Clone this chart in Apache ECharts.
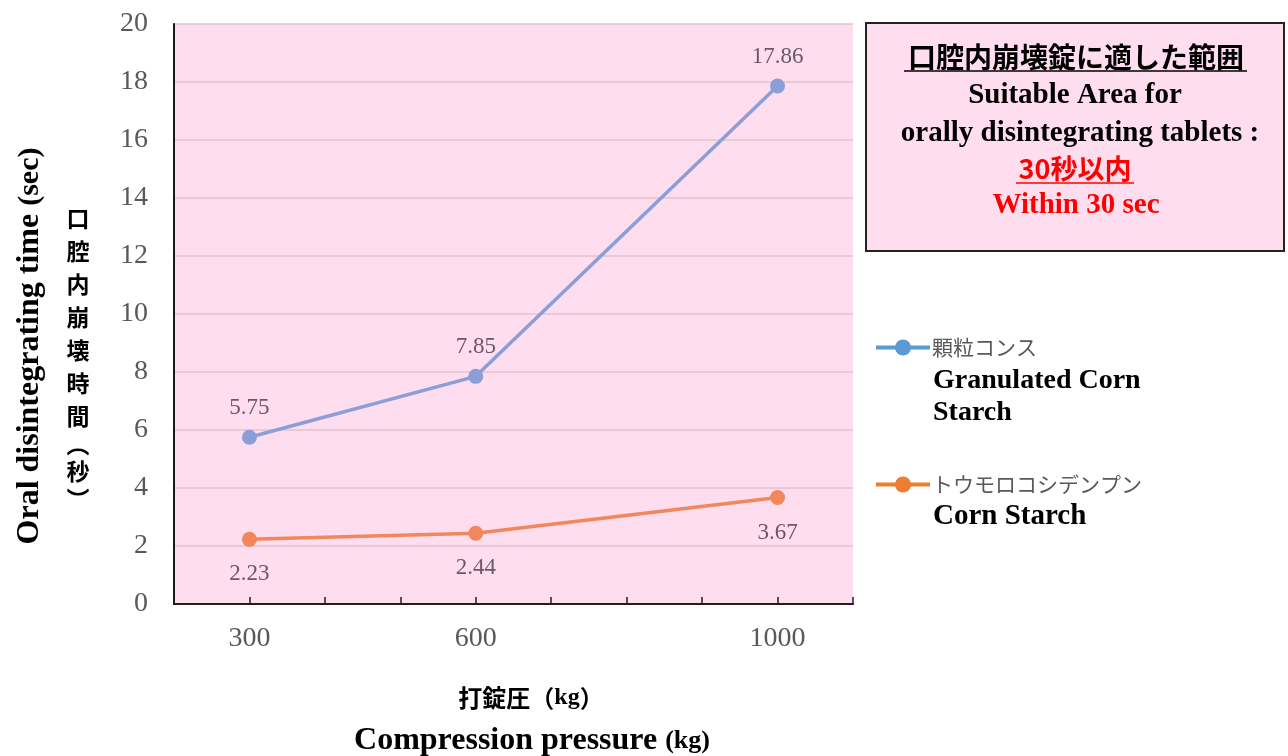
<!DOCTYPE html>
<html>
<head>
<meta charset="utf-8">
<script src="https://cdn.jsdelivr.net/npm/echarts@6/dist/echarts.min.js"></script>
<style>
  html, body { margin: 0; padding: 0; background: #ffffff; }
  #chart { width: 1288px; height: 756px; }
</style>
</head>
<body>
<div id="chart"></div>
<script>
// Compression pressure (kg) and oral disintegrating time (sec)
const pressures = [300, 600, 1000];
const granulatedCornStarch = [5.75, 7.85, 17.86];
const cornStarch = [2.23, 2.44, 3.67];
const pressureLabels = [300, 600, 1000];

const seriesNames = ['顆粒コンス', 'トウモロコシデンプン'];

const SERIF = '"Liberation Serif", "Times New Roman", serif';
const GOTHIC = '"Noto Sans CJK JP", sans-serif';

function pairs(xs, ys) {
  return xs.map((x, i) => [x, ys[i]]);
}

const chart = echarts.init(document.getElementById('chart'));

const option = {
  animation: false,
  backgroundColor: '#ffffff',
  grid: {
    left: 174, right: 435, top: 24, bottom: 152,
    show: true, backgroundColor: '#FEDEEE', borderWidth: 0
  },
  xAxis: {
    type: 'value',
    min: 200, max: 1100, interval: 100,
    axisLine: { show: true, lineStyle: { color: '#2a1a22', width: 2 } },
    axisTick: { show: true, inside: true, length: 7, lineStyle: { color: '#2a1a22', width: 1.5 } },
    splitLine: { show: false },
    axisLabel: {
      margin: 21,
      fontFamily: SERIF, fontSize: 28, color: '#595959',
      formatter: v => (pressureLabels.indexOf(v) >= 0 ? String(v) : '')
    }
  },
  yAxis: {
    type: 'value',
    min: 0, max: 20, interval: 2,
    axisLine: { show: true, lineStyle: { color: '#1a1a1a', width: 2 } },
    axisTick: { show: false },
    splitLine: { show: true, lineStyle: { color: '#DEC3CF', width: 1.5 } },
    axisLabel: { margin: 26, fontFamily: SERIF, fontSize: 28, color: '#595959' }
  },
  legend: {
    orient: 'vertical',
    left: 874, top: 337,
    itemWidth: 54, itemHeight: 20, itemGap: 116,
    padding: 0,
    textStyle: { fontFamily: GOTHIC, fontSize: 21, color: '#595959', padding: [0, 0, 0, -3] },
    data: [
      { name: seriesNames[0], itemStyle: { color: '#5B9BD5' }, lineStyle: { color: '#5B9BD5', width: 4 } },
      { name: seriesNames[1], itemStyle: { color: '#ED7D31' }, lineStyle: { color: '#ED7D31', width: 4 } }
    ]
  },
  series: [
    {
      name: seriesNames[0],
      type: 'line',
      data: pairs(pressures, granulatedCornStarch),
      symbol: 'circle', symbolSize: 15,
      lineStyle: { color: '#8C9ED8', width: 3.5 },
      itemStyle: { color: '#8C9ED8' },
      label: {
        show: true, position: 'top', distance: 10,
        fontFamily: SERIF, fontSize: 23, color: '#6E5765',
        formatter: p => p.value[1].toFixed(2)
      }
    },
    {
      name: seriesNames[1],
      type: 'line',
      data: pairs(pressures, cornStarch),
      symbol: 'circle', symbolSize: 15,
      lineStyle: { color: '#F2875C', width: 3.5 },
      itemStyle: { color: '#F2875C' },
      label: {
        show: true, position: 'bottom', distance: 16,
        fontFamily: SERIF, fontSize: 23, color: '#6E5765',
        formatter: p => p.value[1].toFixed(2)
      }
    }
  ],
  graphic: [
    // Y-axis title (English, rotated)
    {
      type: 'text', x: 30, y: 346, rotation: Math.PI / 2,
      style: {
        text: '{b|Oral disintegrating time }{s|(sec)}',
        align: 'center', verticalAlign: 'middle',
        rich: {
          b: { fontFamily: SERIF, fontSize: 32, fontWeight: 'bold', fill: '#000' },
          s: { fontFamily: SERIF, fontSize: 30, fontWeight: 'bold', fill: '#000' }
        }
      }
    },
    // Y-axis title (Japanese, stacked vertically)
    {
      type: 'text', x: 78, y: 202,
      style: {
        text: ['口', '腔', '内', '崩', '壊', '時', '間'].map(c => '{c|' + c + '}').join('\n') +
              '\n{p|︵}\n{c|秒}\n{p|︶}',
        align: 'center', verticalAlign: 'top',
        rich: {
          c: { fontFamily: GOTHIC, fontSize: 23, fontWeight: 'bold', fill: '#000', lineHeight: 33, align: 'center' },
          p: { fontFamily: GOTHIC, fontSize: 23, fontWeight: 'bold', fill: '#000', lineHeight: 22, align: 'center' }
        }
      }
    },
    // X-axis titles
    {
      type: 'text', x: 531, y: 698,
      style: {
        text: '{j|打錠圧（}{k|kg}{j|）}',
        align: 'center', verticalAlign: 'middle',
        rich: {
          j: { fontFamily: GOTHIC, fontSize: 24, fontWeight: 'bold', fill: '#000' },
          k: { fontFamily: SERIF, fontSize: 24, fontWeight: 'bold', fill: '#000' }
        }
      }
    },
    {
      type: 'text', x: 532, y: 741,
      style: {
        text: '{b|Compression pressure }{s|(kg)}',
        align: 'center', verticalAlign: 'middle',
        rich: {
          b: { fontFamily: SERIF, fontSize: 32, fontWeight: 'bold', fill: '#000' },
          s: { fontFamily: SERIF, fontSize: 26, fontWeight: 'bold', fill: '#000' }
        }
      }
    },
    // Suitable-area box
    {
      type: 'rect', shape: { x: 866, y: 23, width: 418, height: 228 },
      style: { fill: '#FEDEEE', stroke: '#222', lineWidth: 2 }
    },
    {
      type: 'text', x: 1076, y: 57,
      style: { text: '口腔内崩壊錠に適した範囲', align: 'center', verticalAlign: 'middle',
               fontFamily: GOTHIC, fontSize: 28, fontWeight: 'bold', fill: '#000' }
    },
    { type: 'line', shape: { x1: 904, y1: 71, x2: 1247, y2: 71 }, style: { stroke: '#000', lineWidth: 1.5 } },
    {
      type: 'text', x: 1075, y: 96,
      style: { text: 'Suitable Area for', align: 'center', verticalAlign: 'middle',
               fontFamily: SERIF, fontSize: 29, fontWeight: 'bold', fill: '#000' }
    },
    {
      type: 'text', x: 1080, y: 134,
      style: { text: 'orally disintegrating tablets :', align: 'center', verticalAlign: 'middle',
               fontFamily: SERIF, fontSize: 29, fontWeight: 'bold', fill: '#000' }
    },
    {
      type: 'text', x: 1075, y: 169,
      style: { text: '30秒以内', align: 'center', verticalAlign: 'middle',
               fontFamily: GOTHIC, fontSize: 27, fontWeight: 'bold', fill: '#FF0000' }
    },
    { type: 'line', shape: { x1: 1016, y1: 183, x2: 1134, y2: 183 }, style: { stroke: '#FF0000', lineWidth: 1.5 } },
    {
      type: 'text', x: 1076, y: 206,
      style: { text: 'Within 30 sec', align: 'center', verticalAlign: 'middle',
               fontFamily: SERIF, fontSize: 29, fontWeight: 'bold', fill: '#FF0000' }
    },
    // English series names under the legend entries
    {
      type: 'text', x: 933, y: 381,
      style: { text: 'Granulated Corn', align: 'left', verticalAlign: 'middle',
               fontFamily: SERIF, fontSize: 28, fontWeight: 'bold', fill: '#000' }
    },
    {
      type: 'text', x: 933, y: 413,
      style: { text: 'Starch', align: 'left', verticalAlign: 'middle',
               fontFamily: SERIF, fontSize: 28, fontWeight: 'bold', fill: '#000' }
    },
    {
      type: 'text', x: 933, y: 517,
      style: { text: 'Corn Starch', align: 'left', verticalAlign: 'middle',
               fontFamily: SERIF, fontSize: 29, fontWeight: 'bold', fill: '#000' }
    }
  ]
};

chart.setOption(option);
</script>
</body>
</html>
